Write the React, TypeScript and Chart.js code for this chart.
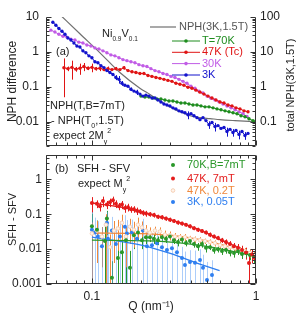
import React, { useEffect, useRef } from 'react';
import { Chart, registerables } from 'chart.js';
Chart.register(...registerables);

const FONT = '"Liberation Sans", Arial, sans-serif';
const TXT = '#222222';
const AXIS = '#333333';

// ---------- panel (a) ----------
const grayQ = [0.0647, 0.0845, 0.112, 0.148, 0.196, 0.226, 0.26, 0.299, 0.321, 0.369, 0.396, 0.456, 0.525, 0.603, 0.745, 1.0];
const grayNPH = [110, 33, 9.4, 2.56, 0.91, 0.6, 0.39, 0.265, 0.22, 0.168, 0.147, 0.13, 0.122, 0.114, 0.107, 0.1];

const b3Q = [0.0578, 0.0603, 0.0629, 0.0657, 0.0685, 0.0714, 0.0745, 0.0777, 0.081, 0.0845,
  0.0881, 0.0919, 0.0959, 0.1, 0.1043, 0.1088, 0.1135, 0.1184, 0.1234, 0.1287,
  0.1343, 0.14, 0.1461, 0.1524, 0.1589, 0.1658, 0.1729, 0.1803, 0.1881, 0.1962,
  0.2046, 0.2134, 0.2226, 0.2322, 0.2422, 0.2526, 0.2634, 0.2748, 0.2866, 0.2989,
  0.3118, 0.3252, 0.3392, 0.3538, 0.369, 0.3849, 0.4015, 0.4188, 0.4368, 0.4556,
  0.4752, 0.4956, 0.517, 0.5392, 0.5623, 0.5865, 0.6118, 0.6381, 0.6656, 0.6942,
  0.7241, 0.7551, 0.7876, 0.8215, 0.8568, 0.8937];
const b3V = [7.1, 5.8, 4.7, 3.9, 3.2, 2.5, 2.2, 1.8, 1.47, 1.38,
  1.07, 0.94, 0.77, 0.68, 0.52, 0.49, 0.4, 0.354, 0.29, 0.256,
  0.225, 0.185, 0.163, 0.126, 0.11, 0.103, 0.085, 0.075, 0.07, 0.0615,
  0.054, 0.0577, 0.054, 0.0474, 0.0474, 0.0417, 0.0366, 0.0321, 0.0301, 0.0282,
  0.0248, 0.0232, 0.0204, 0.0191, 0.0179, 0.0157, 0.0168, 0.0148, 0.013, 0.0114,
  0.013, 0.0107, 0.0082, 0.0094, 0.0072, 0.0077, 0.0064, 0.0068, 0.0052, 0.006,
  0.0049, 0.0056, 0.0043, 0.0052, 0.004, 0.0046];
const b3Err = [0, 0, 0, 0.3, 0, 0, 0.2, 0, 0, 0,
  0.1, 0, 0, 0, 0, 0, 0, 0, 0, 0,
  0, 0.03, 0.04, 0.02, 0, 0, 0.01, 0, 0.012, 0,
  0, 0, 0, 0, 0, 0, 0, 0, 0, 0,
  0, 0, 0, 0, 0, 0.004, 0, 0, 0, 0,
  0, 0, 0.002, 0, 0.002, 0, 0, 0, 0.0015, 0,
  0.0012, 0, 0.0012, 0, 0.001, 0];

const m30Q = [0.0562, 0.0595, 0.0629, 0.0666, 0.0704, 0.0745, 0.0788, 0.0833, 0.0881, 0.0932,
  0.0986, 0.1043, 0.1103, 0.1167, 0.1234, 0.1305, 0.138, 0.1461, 0.1545, 0.1634,
  0.1729, 0.1829, 0.1934, 0.2046, 0.2164, 0.2289, 0.2422, 0.2562, 0.271, 0.2866,
  0.3032, 0.3207, 0.3392, 0.3588, 0.3796, 0.4015, 0.4247, 0.4493, 0.4752, 0.5027,
  0.5317, 0.5623, 0.5948, 0.6292, 0.6656, 0.704, 0.7447, 0.7876, 0.8333, 0.8812];
const m30V = [4.2, 3.7, 3.2, 2.8, 2.65, 2.3, 2.2, 1.9, 1.8, 1.57,
  1.47, 1.3, 1.21, 1.07, 0.94, 0.82, 0.77, 0.68, 0.6, 0.56,
  0.52, 0.49, 0.43, 0.4, 0.38, 0.33, 0.29, 0.27, 0.24, 0.225,
  0.198, 0.185, 0.163, 0.143, 0.126, 0.103, 0.091, 0.075, 0.066, 0.054,
  0.047, 0.042, 0.037, 0.032, 0.028, 0.025, 0.022, 0.019, 0.017, 0.014];

const r47Q = [0.0675, 0.0714, 0.0755, 0.0799, 0.0845, 0.0894, 0.0946, 0.1, 0.1058, 0.1119,
  0.1184, 0.1252, 0.1324, 0.14, 0.1481, 0.1567, 0.1658, 0.1753, 0.1854, 0.1962,
  0.2075, 0.2195, 0.2322, 0.2456, 0.2598, 0.2748, 0.2906, 0.3074, 0.3252, 0.344,
  0.3639, 0.3849, 0.4071, 0.4306, 0.4556, 0.4819, 0.5097, 0.5392, 0.5703, 0.6033,
  0.6381, 0.675, 0.714, 0.7551, 0.7988, 0.8449, 0.8937];
const r47V = [0.35, 0.33, 0.36, 0.32, 0.34, 0.38, 0.34, 0.36, 0.33, 0.34,
  0.31, 0.33, 0.31, 0.33, 0.31, 0.35, 0.29, 0.27, 0.256, 0.24,
  0.24, 0.21, 0.198, 0.185, 0.174, 0.163, 0.152, 0.143, 0.126, 0.118,
  0.11, 0.097, 0.091, 0.08, 0.07, 0.0615, 0.054, 0.0474, 0.0417, 0.0366,
  0.0343, 0.03, 0.0282, 0.0248, 0.0232, 0.0204, 0.0191];
const r47Err = [0.3, 0.05, 0.2, 0.05, 0.12, 0.1, 0.04, 0.1, 0.04, 0.06,
  0.03, 0.05, 0.02, 0.04, 0.02, 0.04, 0.02, 0.02, 0.01, 0.01,
  0, 0, 0, 0, 0, 0, 0, 0, 0, 0,
  0, 0, 0, 0, 0, 0, 0, 0, 0, 0,
  0, 0, 0, 0, 0, 0, 0];

const g70Q = [0.199, 0.2104, 0.2226, 0.2355, 0.249, 0.2634, 0.2787, 0.2947, 0.3118, 0.3298,
  0.3488, 0.369, 0.3903, 0.4128, 0.4368, 0.462, 0.4887, 0.517, 0.5468, 0.5784,
  0.6118, 0.6471, 0.6845, 0.7241, 0.7659, 0.8101, 0.8568, 0.9065, 0.9588, 1.0];
const g70V = [0.054, 0.0506, 0.0506, 0.0474, 0.0445, 0.0445, 0.0417, 0.0391, 0.0391, 0.0366,
  0.0343, 0.0343, 0.0321, 0.0301, 0.0301, 0.0282, 0.0265, 0.0265, 0.0248, 0.0232,
  0.0218, 0.0204, 0.0191, 0.0179, 0.0168, 0.0148, 0.0138, 0.0121, 0.0107, 0.01];

// ---------- panel (b) ----------
const sRedQ = [0.1, 0.1073, 0.1119, 0.1167, 0.1234, 0.1287, 0.1343, 0.14, 0.1461, 0.1524,
  0.1589, 0.1658, 0.1729, 0.1803, 0.1881, 0.1962, 0.2046, 0.2134, 0.2258, 0.2388,
  0.2526, 0.2672, 0.2826, 0.2989, 0.3162, 0.3345, 0.3538, 0.3742, 0.3958, 0.4188,
  0.443, 0.4686, 0.4956, 0.5242, 0.5545, 0.5865, 0.6203, 0.6562, 0.6942, 0.7343,
  0.7767, 0.8215, 0.869, 0.9065, 0.9454, 0.986];
const sRedV = [0.21, 0.2, 0.17, 0.24, 0.19, 0.22, 0.25, 0.2, 0.17, 0.19,
  0.15, 0.16, 0.14, 0.14, 0.125, 0.12, 0.11, 0.105, 0.1, 0.095,
  0.085, 0.082, 0.075, 0.07, 0.064, 0.058, 0.054, 0.05, 0.045, 0.04,
  0.036, 0.033, 0.03, 0.026, 0.023, 0.021, 0.018, 0.016, 0.014, 0.012,
  0.011, 0.0095, 0.008, 0.004, 0.007, 0.0055];
const sRedErr = [0.1, 0.05, 0.05, 0.08, 0.05, 0.06, 0.07, 0.05, 0.04, 0.05,
  0.04, 0.04, 0.03, 0.03, 0.03, 0.02, 0.02, 0.02, 0.015, 0.015,
  0.012, 0.012, 0.01, 0.01, 0.008, 0.008, 0.007, 0.006, 0.006, 0.005,
  0.005, 0.004, 0.004, 0.004, 0.003, 0.003, 0.003, 0.003, 0.003, 0.003,
  0.003, 0.003, 0.003, 0.004, 0.003, 0.003];

const sGreenQ = [0.1, 0.1073, 0.12, 0.1234, 0.1324, 0.1441, 0.1524, 0.1612, 0.1705, 0.1803,
  0.1908, 0.2018, 0.2134, 0.2258, 0.2388, 0.2526, 0.2672, 0.2826, 0.2989, 0.3162,
  0.3345, 0.3538, 0.3742, 0.3958, 0.4188, 0.443, 0.4686, 0.4956, 0.5242, 0.5545,
  0.5865, 0.6203, 0.6562, 0.6942, 0.7343, 0.7767, 0.8215, 0.869, 0.9192, 0.9723];
const sGreenV = [0.045, 0.036, 0.017, 0.075, 0.0015, 0.0056, 0.0082, 0.018, 0.0029, 0.025,
  0.03, 0.018, 0.022, 0.022, 0.02, 0.018, 0.022, 0.02, 0.023, 0.018,
  0.016, 0.019, 0.015, 0.017, 0.014, 0.012, 0.014, 0.011, 0.0114, 0.0094,
  0.01, 0.0088, 0.0094, 0.0082, 0.0077, 0.0088, 0.0072, 0.0077, 0.0068, 0.006];
const sGreenErr = [0.06, 0.03, 0.03, 0.05, 0.003, 0.01, 0.01, 0.02, 0.006, 0.015,
  0.012, 0.008, 0.008, 0.006, 0.006, 0.005, 0.005, 0.005, 0.005, 0.004,
  0.004, 0.004, 0.003, 0.003, 0.003, 0.003, 0.003, 0.003, 0.002, 0.002,
  0.002, 0.002, 0.002, 0.002, 0.002, 0.002, 0.002, 0.002, 0.002, 0.002];

const sOrangeQ = [0.1, 0.1073, 0.1151, 0.1217, 0.1287, 0.1362, 0.1441, 0.1524, 0.1612, 0.1705,
  0.1803, 0.1908, 0.2018, 0.2134, 0.2258, 0.2422, 0.2598, 0.2787, 0.2989, 0.3207,
  0.344, 0.369, 0.3958, 0.4247, 0.4556, 0.4887, 0.5242, 0.5623, 0.6033, 0.6471,
  0.6942, 0.7447, 0.7988, 0.8568, 0.9192, 0.9723];
const sOrangeV = [0.028, 0.034, 0.023, 0.05, 0.0114, 0.034, 0.039, 0.057, 0.023, 0.044,
  0.036, 0.05, 0.042, 0.034, 0.03, 0.034, 0.032, 0.026, 0.025, 0.023,
  0.022, 0.022, 0.02, 0.019, 0.018, 0.017, 0.016, 0.0148, 0.013, 0.012,
  0.0114, 0.0106, 0.0094, 0.0088, 0.0077, 0.0068];
const sOrangeErr = [0.03, 0.03, 0.02, 0.05, 0.015, 0.03, 0.03, 0.04, 0.02, 0.03,
  0.025, 0.03, 0.02, 0.015, 0.012, 0.01, 0.01, 0.008, 0.007, 0.006,
  0.005, 0.005, 0.004, 0.004, 0.004, 0.003, 0.003, 0.003, 0.003, 0.003,
  0.002, 0.002, 0.002, 0.002, 0.002, 0.002];

const sBlueQ = [0.1, 0.1043, 0.1088, 0.1151, 0.1234, 0.1252, 0.1324, 0.14, 0.1481, 0.1589,
  0.1634, 0.1753, 0.1881, 0.2046, 0.2164, 0.2322, 0.249, 0.2672, 0.2866, 0.3074,
  0.3298, 0.3538, 0.369, 0.3958, 0.4247, 0.4556, 0.4752, 0.5027, 0.5392];
const sBlueV = [0.036, 0.03, 0.023, 0.012, 0.057, 0.02, 0.034, 0.014, 0.023, 0.044,
  0.028, 0.03, 0.02, 0.034, 0.012, 0.013, 0.0148, 0.0114, 0.0094, 0.0106,
  0.0082, 0.0056, 0.0035, 0.0043, 0.0041, 0.0049, 0.0029, 0.0013, 0.0018];
const sBlueErr = [0.08, 0.05, 0.04, 0.03, 0.06, 0.04, 0.05, 0.03, 0.04, 0.05,
  0.04, 0.04, 0.03, 0.04, 0.02, 0.015, 0.015, 0.012, 0.01, 0.01,
  0.008, 0.006, 0.005, 0.005, 0.005, 0.005, 0.004, 0.003, 0.003];

const fitRedQ = [0.1, 0.15, 0.2, 0.3, 0.45, 0.6, 0.8, 1.0];
const fitRedV = [0.21, 0.16, 0.115, 0.07, 0.036, 0.019, 0.0105, 0.0062];
const fitGreenQ = [0.1, 0.25, 0.5, 1.0];
const fitGreenV = [0.018, 0.017, 0.012, 0.0062];
const fitOrangeQ = [0.1, 0.2, 0.3, 0.45, 0.6, 0.8, 1.0];
const fitOrangeV = [0.029, 0.028, 0.025, 0.019, 0.014, 0.0095, 0.0068];
const fitBlueQ = [0.1, 0.2, 0.3, 0.45, 0.6];
const fitBlueV = [0.022, 0.013, 0.0075, 0.0038, 0.0024];

// axis ranges
const Q_MIN = 0.0525, Q_MAX = 1;
const A_MIN = 0.002, A_MAX = 10;
const A2_MIN = 0.02, A2_MAX = 100;
const B_MIN = 0.001, B_MAX = 5;

const C_GRAY = '#707070';
const C_GREEN = '#1e8c1e';
const C_RED = '#e01414';
const C_VIOLET = '#c15ce6';
const C_BLUE = '#1212cc';
const C_GREEN2 = '#2a982a';
const C_RED2 = '#e41c1c';
const C_ORANGE = '#f0883c';
const C_ORANGE_PALE = '#f6cfb3';
const C_BLUE2 = '#2f7ff0';
const C_BLUE2_ERR = 'rgba(90,155,245,0.5)';

const pts = (q: number[], v: number[]) => q.map((x, i) => ({ x, y: v[i] }));

const decadeLabel = (val: any) => {
  const v = Number(val);
  const l = Math.log10(v);
  const e = Math.round(l);
  if (Math.abs(l - e) > 1e-6) return '';
  return e >= 0 ? String(Math.pow(10, e)) : Math.pow(10, e).toFixed(-e);
};

function logTicks(min: number, max: number): Array<[number, boolean]> {
  const out: Array<[number, boolean]> = [];
  for (let e = Math.floor(Math.log10(min)) - 1; e <= Math.ceil(Math.log10(max)); e++) {
    for (let k = 1; k < 10; k++) {
      const v = k * Math.pow(10, e);
      if (v >= min * 0.9999 && v <= max * 1.0001) out.push([v, k === 1]);
    }
  }
  return out;
}

function drawFrame(chart: any, rightId: string | null, withTop: boolean) {
  const { ctx, chartArea: a } = chart;
  const xs = chart.scales.x, ys = chart.scales.y;
  const rs = rightId ? chart.scales[rightId] : ys;
  const L = Math.round(a.left) + 0.5, R = Math.round(a.right) - 0.5;
  const T = Math.round(a.top) + 0.5, B = Math.round(a.bottom) - 0.5;
  ctx.save();
  ctx.strokeStyle = AXIS;
  ctx.lineWidth = 1;
  ctx.beginPath();
  ctx.moveTo(L, T); ctx.lineTo(L, B); ctx.lineTo(R, B); ctx.lineTo(R, T);
  if (withTop) ctx.lineTo(L, T);
  ctx.stroke();
  ctx.beginPath();
  for (const [v, major] of logTicks(xs.min, xs.max)) {
    const p = Math.round(xs.getPixelForValue(v)) + 0.5;
    const len = major ? 5 : 3;
    ctx.moveTo(p, B); ctx.lineTo(p, B - len);
    if (withTop) { ctx.moveTo(p, T); ctx.lineTo(p, T + len); }
  }
  for (const [v, major] of logTicks(ys.min, ys.max)) {
    const p = Math.round(ys.getPixelForValue(v)) + 0.5;
    const len = major ? 5 : 3;
    ctx.moveTo(L, p); ctx.lineTo(L + len, p);
  }
  for (const [v, major] of logTicks(rs.min, rs.max)) {
    const p = Math.round(rs.getPixelForValue(v)) + 0.5;
    const len = major ? 5 : 3;
    ctx.moveTo(R, p); ctx.lineTo(R - len, p);
  }
  ctx.stroke();
  ctx.restore();
}

const errPlugin = {
  id: 'errbars',
  beforeDatasetsDraw(chart: any) {
    const { ctx, chartArea: a } = chart;
    ctx.save();
    ctx.beginPath();
    ctx.rect(a.left, a.top, a.right - a.left, a.bottom - a.top);
    ctx.clip();
    chart.data.datasets.forEach((ds: any) => {
      if (!ds.errs) return;
      const ys = chart.scales[ds.yAxisID || 'y'];
      const xs = chart.scales.x;
      ctx.strokeStyle = ds.errColor || ds.borderColor;
      ctx.lineWidth = 1;
      ctx.beginPath();
      ds.data.forEach((p: any, j: number) => {
        const e = ds.errs[j];
        if (!e) return;
        const px = Math.round(xs.getPixelForValue(p.x)) + 0.5;
        const y1 = ys.getPixelForValue(p.y + e);
        const lo = p.y - e;
        const y2 = lo > 0 ? ys.getPixelForValue(lo) : a.bottom + 5;
        ctx.moveTo(px, y1); ctx.lineTo(px, y2);
      });
      ctx.stroke();
    });
    ctx.restore();
  },
};

type Part = [string, number, number];
function rich(ctx: CanvasRenderingContext2D, x: number, y: number, parts: Part[], color: string) {
  ctx.fillStyle = color;
  ctx.textBaseline = 'middle';
  ctx.textAlign = 'left';
  let cx = x;
  for (const [t, s, dy] of parts) {
    ctx.font = `${s}px ${FONT}`;
    ctx.fillText(t, cx, y + dy);
    cx += ctx.measureText(t).width;
  }
}

function dot(ctx: CanvasRenderingContext2D, x: number, y: number, r: number, fill: string, stroke?: string) {
  ctx.beginPath();
  ctx.arc(x, y, r, 0, Math.PI * 2);
  ctx.fillStyle = fill;
  ctx.fill();
  if (stroke) { ctx.strokeStyle = stroke; ctx.lineWidth = 1; ctx.stroke(); }
}

const topOverlay = {
  id: 'topOverlay',
  afterDraw(chart: any) {
    drawFrame(chart, 'y2', false);
    const ctx: CanvasRenderingContext2D = chart.ctx;
    ctx.save();
    ctx.strokeStyle = C_GRAY; ctx.lineWidth = 1.2;
    ctx.beginPath(); ctx.moveTo(150, 27); ctx.lineTo(176, 27); ctx.stroke();
    rich(ctx, 179, 27, [['NPH(3K,1.5T)', 11, 0]], '#555555');
    const items: Array<[string, string, number]> = [
      ['T=70K', C_GREEN, 41], ['47K (Tc)', C_RED, 52.3], ['30K', C_VIOLET, 63.6], ['3K', C_BLUE, 75],
    ];
    for (const [t, c, y] of items) {
      ctx.strokeStyle = c; ctx.lineWidth = 1;
      ctx.beginPath(); ctx.moveTo(172, y); ctx.lineTo(200, y); ctx.stroke();
      dot(ctx, 186, y, 1.8, c);
      rich(ctx, 202, y, [[t, 11, 0]], c);
    }
    rich(ctx, 102, 34, [['Ni', 11, 0], ['0.9', 6.5, 5], ['V', 11, 0], ['0.1', 6.5, 5]], TXT);
    rich(ctx, 56, 52, [['(a)', 11, 0]], TXT);
    rich(ctx, 50, 106, [['NPH(T,B=7mT)', 11, 0]], TXT);
    rich(ctx, 51, 121, [['- NPH(T', 11, 0], ['0', 7, 5], [',1.5T)', 11, 0]], TXT);
    rich(ctx, 53, 136, [['expect 2M', 11, 0], ['y', 7, 6], ['2', 7, -5]], TXT);
    ctx.translate(291, 85);
    ctx.rotate(-Math.PI / 2);
    ctx.font = `11px ${FONT}`;
    ctx.fillStyle = TXT;
    ctx.textAlign = 'center';
    ctx.textBaseline = 'middle';
    ctx.fillText('total NPH(3K,1.5T)', 0, 0);
    ctx.restore();
  },
};

const botOverlay = {
  id: 'botOverlay',
  afterDraw(chart: any) {
    drawFrame(chart, null, true);
    const ctx: CanvasRenderingContext2D = chart.ctx;
    ctx.save();
    const items: Array<[string, string, number, boolean]> = [
      ['70K,B=7mT', C_GREEN2, 15, false],
      ['47K, 7mT', C_RED2, 28.5, false],
      ['47K, 0.2T', C_ORANGE, 40.5, true],
      ['3K, 0.05T', C_BLUE2, 52, false],
    ];
    for (const [t, c, y, open] of items) {
      if (open) dot(ctx, 173, y, 1.8, '#fff4ec', C_ORANGE_PALE);
      else dot(ctx, 173, y, 2, c);
      rich(ctx, 187, y, [[t, 11, 0]], c);
    }
    rich(ctx, 55, 19, [['(b)', 11, 0]], TXT);
    rich(ctx, 77, 19, [['SFH - SFV', 11, 0]], TXT);
    rich(ctx, 78, 34, [['expect M', 11, 0], ['y', 7, 6], ['2', 7, -5]], TXT);
    ctx.restore();
  },
};

const tickFont = { family: FONT, size: 12 };
const noPadV = (w: number) => (s: any) => { s.width = w; s.paddingTop = 0; s.paddingBottom = 0; };
const noPadH = (h: number) => (s: any) => { s.height = h; s.paddingLeft = 0; s.paddingRight = 0; };

function topConfig(): any {
  const line = (label: string, q: number[], v: number[], color: string, extra: any = {}) => ({
    label, data: pts(q, v), borderColor: color, backgroundColor: color,
    pointBackgroundColor: color, borderWidth: 1, pointRadius: 1.7, pointBorderWidth: 0,
    yAxisID: 'y', ...extra,
  });
  return {
    type: 'line',
    data: {
      datasets: [
        line('3K', b3Q, b3V, C_BLUE, { errs: b3Err }),
        line('47K (Tc)', r47Q, r47V, C_RED, { errs: r47Err }),
        line('T=70K', g70Q, g70V, C_GREEN),
        line('30K', m30Q, m30V, C_VIOLET),
        {
          label: 'NPH(3K,1.5T)', data: pts(grayQ, grayNPH), borderColor: C_GRAY,
          borderWidth: 1.2, pointRadius: 0, yAxisID: 'y2', cubicInterpolationMode: 'monotone',
        },
      ],
    },
    options: {
      responsive: false, animation: false, devicePixelRatio: 1,
      layout: { padding: { top: 17, left: 0, right: 0, bottom: 0 } },
      plugins: { legend: { display: false }, tooltip: { enabled: false } },
      scales: {
        x: {
          type: 'logarithmic', min: Q_MIN, max: Q_MAX,
          grid: { display: false, drawTicks: false }, border: { display: false },
          ticks: { display: false },
          afterFit: noPadH(2),
        },
        y: {
          type: 'logarithmic', position: 'left', min: A_MIN, max: A_MAX,
          grid: { display: false, drawTicks: false }, border: { display: false },
          ticks: { autoSkip: false, padding: 7, font: tickFont, color: TXT, callback: decadeLabel },
          title: { display: true, text: 'NPH difference', color: TXT, font: { family: FONT, size: 12 }, padding: { top: 5, bottom: 0 } },
          afterFit: noPadV(46),
        },
        y2: {
          type: 'logarithmic', position: 'right', min: A2_MIN, max: A2_MAX,
          grid: { display: false, drawTicks: false }, border: { display: false },
          ticks: { autoSkip: false, padding: 4, font: tickFont, color: TXT, callback: decadeLabel },
          afterFit: noPadV(47),
        },
      },
    },
    plugins: [errPlugin, topOverlay],
  };
}

function botConfig(): any {
  const scat = (label: string, q: number[], v: number[], color: string, errs: number[], errColor: string, extra: any = {}) => ({
    label, data: pts(q, v), showLine: false, borderColor: color, backgroundColor: color,
    pointBackgroundColor: color, pointBorderWidth: 0, pointRadius: 2, errs, errColor, ...extra,
  });
  const fit = (label: string, q: number[], v: number[], color: string) => ({
    label, data: pts(q, v), borderColor: color, borderWidth: 1.3, pointRadius: 0,
    cubicInterpolationMode: 'monotone',
  });
  return {
    type: 'line',
    data: {
      datasets: [
        scat('47K, 7mT', sRedQ, sRedV, C_RED2, sRedErr, C_RED2),
        scat('70K,B=7mT', sGreenQ, sGreenV, C_GREEN2, sGreenErr, C_GREEN2),
        scat('47K, 0.2T', sOrangeQ, sOrangeV, C_ORANGE, sOrangeErr, C_ORANGE, {
          pointBackgroundColor: '#fff4ec', pointBorderColor: C_ORANGE_PALE, pointBorderWidth: 1, pointRadius: 1.8,
        }),
        scat('3K, 0.05T', sBlueQ, sBlueV, C_BLUE2, sBlueErr, C_BLUE2_ERR),
        fit('fit 47K, 7mT', fitRedQ, fitRedV, C_RED2),
        fit('fit 70K', fitGreenQ, fitGreenV, C_GREEN2),
        fit('fit 47K, 0.2T', fitOrangeQ, fitOrangeV, C_ORANGE),
        fit('fit 3K', fitBlueQ, fitBlueV, C_BLUE2),
      ],
    },
    options: {
      responsive: false, animation: false, devicePixelRatio: 1,
      layout: { padding: { top: 3, left: 0, right: 47, bottom: 0 } },
      plugins: { legend: { display: false }, tooltip: { enabled: false } },
      scales: {
        x: {
          type: 'logarithmic', min: Q_MIN, max: Q_MAX,
          grid: { display: false, drawTicks: false }, border: { display: false },
          ticks: { autoSkip: false, maxRotation: 0, padding: 5, font: tickFont, color: TXT, callback: decadeLabel },
          title: { display: true, text: 'Q (nm⁻¹)', color: TXT, font: { family: FONT, size: 12 }, padding: { top: 0, bottom: 7 } },
          afterFit: noPadH(37),
        },
        y: {
          type: 'logarithmic', position: 'left', min: B_MIN, max: B_MAX,
          grid: { display: false, drawTicks: false }, border: { display: false },
          ticks: { autoSkip: false, padding: 4, font: tickFont, color: TXT, callback: decadeLabel },
          title: { display: true, text: 'SFH - SFV', color: TXT, font: { family: FONT, size: 11 }, padding: { top: 6, bottom: 0 } },
          afterFit: noPadV(46),
        },
      },
    },
    plugins: [errPlugin, botOverlay],
  };
}

export default function App() {
  const topRef = useRef<HTMLCanvasElement>(null);
  const botRef = useRef<HTMLCanvasElement>(null);
  useEffect(() => {
    document.body.style.margin = '0';
    Chart.defaults.font.family = FONT;
    const c1 = new Chart(topRef.current as HTMLCanvasElement, topConfig());
    const c2 = new Chart(botRef.current as HTMLCanvasElement, botConfig());
    return () => { c1.destroy(); c2.destroy(); };
  }, []);
  return (
    <div style={{ position: 'relative', width: 303, height: 321, background: '#ffffff' }}>
      <canvas ref={topRef} width={303} height={150} style={{ position: 'absolute', left: 0, top: 0 }} />
      <canvas ref={botRef} width={303} height={171} style={{ position: 'absolute', left: 0, top: 150 }} />
    </div>
  );
}
